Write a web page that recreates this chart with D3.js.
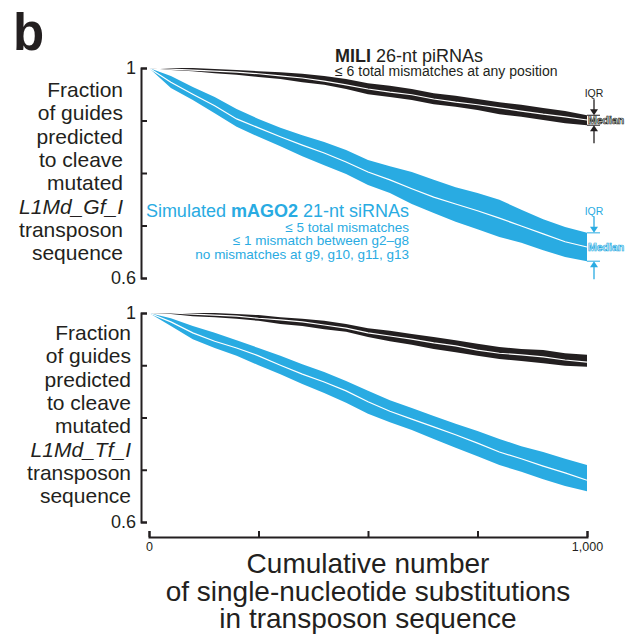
<!DOCTYPE html>
<html>
<head>
<meta charset="utf-8">
<script src="https://cdn.jsdelivr.net/npm/d3@7"></script>
<style>
  body { margin: 0; background: #fff; }
  text { font-family: "Liberation Sans", Arial, sans-serif; }
</style>
</head>
<body>
<div id="chart"></div>
<script>
// cumulative substitutions (x)
let subs = [0, 50, 100, 150, 200, 250, 300, 350, 400, 450, 500, 550, 600, 650, 700, 750, 800, 850, 900, 950, 1000];

// L1Md_Gf_I, MILI 26-nt piRNAs (upper quartile, median, lower quartile)
let gfMiliHi  = [1.000,1.000,1.000,0.998,0.996,0.994,0.992,0.989,0.985,0.979,0.971,0.966,0.960,0.952,0.947,0.941,0.935,0.930,0.924,0.918,0.910];
let gfMiliMed = [1.000,0.998,0.996,0.994,0.992,0.989,0.985,0.981,0.975,0.968,0.960,0.954,0.949,0.941,0.935,0.930,0.924,0.918,0.912,0.907,0.901];
let gfMiliLo  = [1.000,0.996,0.994,0.990,0.987,0.983,0.979,0.973,0.968,0.960,0.950,0.945,0.939,0.931,0.926,0.920,0.912,0.907,0.901,0.895,0.891];

// L1Md_Gf_I, simulated mAGO2 21-nt siRNAs
let gfAgoHi  = [1.000,0.985,0.964,0.945,0.922,0.903,0.886,0.872,0.859,0.844,0.825,0.813,0.802,0.787,0.773,0.762,0.749,0.730,0.712,0.697,0.686];
let gfAgoMed = [1.000,0.973,0.950,0.928,0.903,0.886,0.869,0.853,0.838,0.821,0.802,0.787,0.770,0.754,0.741,0.728,0.714,0.699,0.684,0.669,0.659];
let gfAgoLo  = [1.000,0.962,0.939,0.914,0.888,0.869,0.851,0.832,0.815,0.798,0.777,0.762,0.741,0.724,0.707,0.693,0.678,0.667,0.653,0.640,0.632];

// L1Md_Tf_I, MILI
let tfMiliHi  = [1.000,1.000,1.000,1.000,0.998,0.996,0.992,0.989,0.985,0.979,0.971,0.966,0.960,0.954,0.948,0.941,0.935,0.931,0.929,0.923,0.920];
let tfMiliMed = [1.000,1.000,0.998,0.996,0.994,0.990,0.987,0.983,0.977,0.971,0.962,0.956,0.950,0.943,0.937,0.929,0.923,0.920,0.916,0.910,0.906];
let tfMiliLo  = [1.000,0.998,0.994,0.992,0.989,0.985,0.979,0.975,0.969,0.964,0.954,0.946,0.939,0.931,0.925,0.918,0.912,0.908,0.904,0.899,0.897];

// L1Md_Tf_I, mAGO2
let tfAgoHi  = [1.000,0.990,0.975,0.962,0.948,0.933,0.918,0.902,0.887,0.870,0.851,0.833,0.818,0.803,0.788,0.774,0.759,0.745,0.734,0.721,0.709];
let tfAgoMed = [1.000,0.983,0.962,0.946,0.933,0.918,0.900,0.883,0.868,0.851,0.830,0.812,0.797,0.782,0.767,0.751,0.734,0.721,0.707,0.694,0.680];
let tfAgoLo  = [1.000,0.975,0.950,0.933,0.918,0.900,0.883,0.864,0.847,0.828,0.807,0.791,0.776,0.759,0.742,0.726,0.709,0.696,0.682,0.669,0.659];

let yTicks = [0.6, 0.7, 0.8, 0.9, 1];
let xTicks = [0, 250, 500, 750, 1000];

let chart_width  = 632;
let chart_height = 634;
let black = '#231f20';
let blue  = '#29abe2';

let svg = d3.select('#chart')
  .append('svg')
  .attr('width', chart_width)
  .attr('height', chart_height);

//scales
let x_scale = d3.scaleLinear().domain([0, 1000]).range([149, 587]);
let y_top = d3.scaleLinear().domain([0.6, 1]).range([278, 68]);
let y_bot = d3.scaleLinear().domain([0.6, 1]).range([522, 313]);

// panel letter
svg.append('text')
  .attr('x', 13).attr('y', 50)
  .attr('font-size', 51).attr('font-weight', 'bold')
  .attr('fill', black)
  .text('b');

function band(y, hi, med, lo, col) {
  let rows = subs.map((s, i) => ({ s: s, hi: hi[i], med: med[i], lo: lo[i] }));
  let area = d3.area()
    .x(d => x_scale(d.s))
    .y0(d => y(d.lo))
    .y1(d => y(d.hi));
  let line = d3.line()
    .x(d => x_scale(d.s))
    .y(d => y(d.med));
  svg.append('path')
    .datum(rows)
    .attr('d', area)
    .attr('fill', col);
  svg.append('path')
    .datum(rows)
    .attr('d', line)
    .attr('fill', 'none')
    .attr('stroke', '#fff')
    .attr('stroke-width', 1.2);
}

function yAxis(y) {
  let ax = d3.axisLeft(y)
    .tickValues(yTicks)
    .tickSizeInner(-6)
    .tickSizeOuter(-6)
    .tickPadding(5)
    .tickFormat(d => d === 1 ? '1' : (d === 0.6 ? '0.6' : ''));
  let g = svg.append('g')
    .attr('transform', 'translate(141,0)')
    .call(ax);
  g.selectAll('path, line').attr('stroke', black).attr('stroke-width', 2);
  g.selectAll('text').attr('font-size', 18).attr('fill', black)
    .attr('font-family', '"Liberation Sans", Arial, sans-serif');
}

function yLabel(gene, right, base) {
  let lines = ['Fraction', 'of guides', 'predicted', 'to cleave', 'mutated', gene, 'transposon', 'sequence'];
  svg.append('g')
    .selectAll('text')
    .data(lines)
    .enter()
    .append('text')
    .attr('x', right)
    .attr('y', (d, i) => base + i * 23.3)
    .attr('text-anchor', 'end')
    .attr('font-size', 21)
    .attr('font-style', d => d === gene ? 'italic' : 'normal')
    .attr('fill', black)
    .text(d => d);
}

//top panel
band(y_top, gfMiliHi, gfMiliMed, gfMiliLo, black);
band(y_top, gfAgoHi, gfAgoMed, gfAgoLo, blue);
yAxis(y_top);
yLabel('L1Md_Gf_I', 123, 97);

//bottom panel
band(y_bot, tfMiliHi, tfMiliMed, tfMiliLo, black);
band(y_bot, tfAgoHi, tfAgoMed, tfAgoLo, blue);
yAxis(y_bot);
yLabel('L1Md_Tf_I', 131, 340);

//x axis
let x_axis = d3.axisBottom(x_scale)
  .tickValues(xTicks)
  .tickSizeInner(-6)
  .tickSizeOuter(-6)
  .tickPadding(5)
  .tickFormat(d => d === 0 ? '0' : (d === 1000 ? '1,000' : ''));
let gx = svg.append('g')
  .attr('transform', 'translate(0,537)')
  .call(x_axis);
gx.selectAll('path, line').attr('stroke', black).attr('stroke-width', 2);
gx.selectAll('text').attr('font-size', 12.5).attr('fill', black)
  .attr('font-family', '"Liberation Sans", Arial, sans-serif');

svg.append('g')
  .selectAll('text')
  .data(['Cumulative number', 'of single-nucleotide substitutions', 'in transposon sequence'])
  .enter()
  .append('text')
  .attr('x', 368)
  .attr('y', (d, i) => 573 + i * 27.5)
  .attr('text-anchor', 'middle')
  .attr('font-size', 28)
  .attr('fill', black)
  .text(d => d);

//legends
let mili = svg.append('text').attr('x', 335).attr('y', 62).attr('font-size', 18).attr('fill', black);
mili.append('tspan').attr('font-weight', 'bold').text('MILI');
mili.append('tspan').text(' 26-nt piRNAs');
svg.append('text').attr('x', 335).attr('y', 76).attr('font-size', 14).attr('fill', black)
  .text('\u2264 6 total mismatches at any position');

let ago = svg.append('text').attr('x', 409).attr('y', 217).attr('font-size', 18)
  .attr('text-anchor', 'end').attr('fill', blue);
ago.append('tspan').text('Simulated ');
ago.append('tspan').attr('font-weight', 'bold').text('mAGO2');
ago.append('tspan').text(' 21-nt siRNAs');
svg.append('g')
  .selectAll('text')
  .data(['\u2264 5 total mismatches', '\u2264 1 mismatch between g2\u2013g8', 'no mismatches at g9, g10, g11, g13'])
  .enter()
  .append('text')
  .attr('x', 409)
  .attr('y', (d, i) => 232 + i * 13.4)
  .attr('text-anchor', 'end')
  .attr('font-size', 13.5)
  .attr('fill', blue)
  .text(d => d);

// IQR / Median markers at the right end of the top panel
function iqr(y, hi, lo, med, col) {
  let top = y(hi), bot = y(lo), mid = y(med);
  let g = svg.append('g');
  g.append('text').attr('x', 594).attr('y', top - 18).attr('text-anchor', 'middle')
    .attr('font-size', 10.5).attr('fill', col).text('IQR');
  g.append('line').attr('x1', 594).attr('x2', 594).attr('y1', top - 16).attr('y2', top - 4)
    .attr('stroke', col).attr('stroke-width', 1.3);
  g.append('path').attr('d', `M590,${top - 6}L598,${top - 6}L594,${top}Z`).attr('fill', col);
  g.append('line').attr('x1', 594).attr('x2', 594).attr('y1', bot + 4).attr('y2', bot + 18)
    .attr('stroke', col).attr('stroke-width', 1.3);
  g.append('path').attr('d', `M590,${bot + 6}L598,${bot + 6}L594,${bot}Z`).attr('fill', col);
  [top, bot].forEach(v => g.append('line')
    .attr('x1', 587).attr('x2', 600).attr('y1', v).attr('y2', v)
    .attr('stroke', col).attr('stroke-width', 1));
  g.append('text').attr('x', 588).attr('y', mid + 4).attr('font-size', 10.5)
    .attr('font-weight', 'bold').attr('fill', '#fff').attr('stroke', col)
    .attr('stroke-width', 0.7).text('Median');
}
let n = subs.length - 1;
iqr(y_top, gfMiliHi[n], gfMiliLo[n], gfMiliMed[n], black);
iqr(y_top, gfAgoHi[n], gfAgoLo[n], gfAgoMed[n], blue);
</script>
</body>
</html>
